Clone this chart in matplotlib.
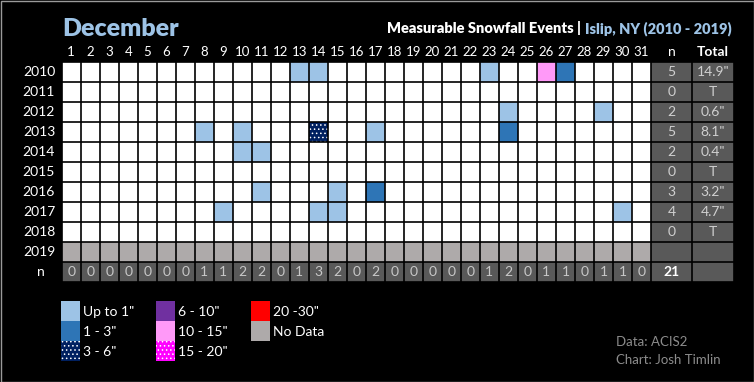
import matplotlib
matplotlib.use("Agg")
import matplotlib.pyplot as plt
from matplotlib.patches import Rectangle

plt.rcParams['font.family'] = ['Lato', 'DejaVu Sans']
plt.rcParams['hatch.linewidth'] = 0.6

# ---------------- data ----------------
month = "December"
years = [2010, 2011, 2012, 2013, 2014, 2015, 2016, 2017, 2018, 2019]
days = list(range(1, 32))
no_data_years = [2019]

# one entry per measurable snowfall day
event_year = [2010, 2010, 2010, 2010, 2010, 2012, 2012, 2013, 2013, 2013, 2013,
              2013, 2014, 2014, 2016, 2016, 2016, 2017, 2017, 2017, 2017]
event_day = [13, 14, 23, 26, 27, 24, 29, 8, 10, 14, 17,
             24, 10, 11, 11, 15, 17, 9, 14, 15, 30]
event_cat = [0, 0, 0, 4, 1, 0, 0, 0, 0, 2, 0,
             1, 0, 0, 0, 0, 1, 0, 0, 0, 0]

season_total = ['14.9"', 'T', '0.6"', '8.1"', '0.4"', 'T', '3.2"', '4.7"', 'T', '']

cat_labels = ['Up to 1"', '1 - 3"', '3 - 6"', '6 - 10"', '10 - 15"', '15 - 20"', '20 -30"', 'No Data']
cat_colors = ['#9DC3E6', '#2E75B6', '#002060', '#7030A0', '#FF99F8', '#FF00FF', '#FF0000', '#AEAAAA']
cat_hatch = [None, None, '....', None, None, '....', None, None]

# ---------------- layout ----------------
W, H = 754, 382
side_gray = '#595959'
nd_gray = cat_colors[-1]
cell_w = 19.0
n_w = 41.0 / cell_w
tot_w = 42.0 / cell_w

fig = plt.figure(figsize=(W / 100, H / 100), dpi=100, facecolor='black')

# background / annotation layer in pixel units
bg = fig.add_axes([0, 0, 1, 1])
bg.set_xlim(0, W)
bg.set_ylim(H, 0)
bg.axis('off')
bg.add_patch(Rectangle((0.5, 0.5), W - 1, H - 1, fill=False, edgecolor='#9a9a9a', lw=1))

# grid axes: x in day units, y in row units
x_left, x_right = 61.7, 734.0
y_top, y_bot = 61.7, 281.7
ax = fig.add_axes([x_left / W, (H - y_bot) / H, (x_right - x_left) / W, (y_bot - y_top) / H])
ax.set_xlim(0.5, 31.5 + n_w + tot_w)
ax.set_ylim(len(years) + 0.5, -0.5)
ax.axis('off')

n_x0 = 31.5
t_x0 = 31.5 + n_w
n_row = len(years)

# base cells
for r, yr in enumerate(years):
    fc = nd_gray if yr in no_data_years else 'white'
    ax.add_patch(Rectangle((0.5, r - 0.5), 31, 1, facecolor=fc, lw=0))
ax.add_patch(Rectangle((0.5, n_row - 0.5), 31, 1, facecolor=side_gray, lw=0))
ax.add_patch(Rectangle((n_x0, -0.5), n_w + tot_w, len(years) + 1, facecolor=side_gray, lw=0))

# snowfall events
for yr, d, c in zip(event_year, event_day, event_cat):
    r = years.index(yr)
    ax.add_patch(Rectangle((d - 0.5, r - 0.5), 1, 1, facecolor=cat_colors[c],
                           edgecolor='white', lw=0, hatch=cat_hatch[c]))

# grid lines
xb = [d + 0.5 for d in range(0, 32)] + [t_x0, t_x0 + tot_w]
yb = [r - 0.5 for r in range(0, len(years) + 2)]
ax.vlines(xb, -0.5, len(years) + 0.5, colors='black', lw=1.2)
ax.hlines(yb, 0.5, t_x0 + tot_w, colors='black', lw=1.2)

# day labels + header
for d in days:
    ax.text(d, -1.0, str(d), color='white', fontsize=9.5, ha='center', va='center')
ax.text(n_x0 + n_w / 2, -1.0, 'n', color='white', fontsize=10, ha='center', va='center')
ax.text(t_x0 + tot_w / 2, -1.0, 'Total', color='white', fontsize=10, ha='center', va='center',
        fontweight='bold')

# year labels
for r, yr in enumerate(years):
    ax.text(0.15, r, str(yr), color='white', fontsize=10, ha='right', va='center')
ax.text(-0.6, n_row, 'n', color='white', fontsize=10, ha='center', va='center')

# counts per year and totals
year_n = [sum(1 for e in event_year if e == yr) for yr in years]
for r, yr in enumerate(years):
    if yr in no_data_years:
        continue
    ax.text(n_x0 + n_w / 2, r, str(year_n[r]), color='#d0d0d0', fontsize=10, ha='center', va='center')
    ax.text(t_x0 + tot_w / 2, r, season_total[r], color='#d0d0d0', fontsize=10, ha='center', va='center')

# counts per day
day_n = [sum(1 for e in event_day if e == d) for d in days]
for d, n in zip(days, day_n):
    ax.text(d, n_row, str(n), color='#c8c8c8', fontsize=10, ha='center', va='center')
ax.text(n_x0 + n_w / 2, n_row, str(sum(day_n)), color='white', fontsize=10, ha='center', va='center',
        fontweight='bold')

# ---------------- titles ----------------
bg.text(62, 36.5, month, color='#9DC3E6', fontsize=18, fontweight='heavy', ha='left', va='baseline')
r_txt = bg.text(732, 33, 'Islip, NY (2010 - 2019)', color='#9DC3E6', fontsize=10.5,
                fontweight='heavy', ha='right', va='baseline')
fig.canvas.draw()
bb = r_txt.get_window_extent().transformed(bg.transData.inverted())
bg.text(bb.x0 - 4, 33, 'Measurable Snowfall Events |', color='white', fontsize=10.5,
        fontweight='heavy', ha='right', va='baseline')

# ---------------- legend ----------------
leg_x = [61, 156, 251]
leg_y0 = 301
for i, (lab, col, hat) in enumerate(zip(cat_labels, cat_colors, cat_hatch)):
    cx = leg_x[i // 3]
    cy = leg_y0 + 20 * (i % 3)
    bg.add_patch(Rectangle((cx, cy), 19, 20, facecolor=col, edgecolor='white', lw=0, hatch=hat))
    bg.text(cx + 22, cy + 10.5, lab, color='white', fontsize=10, ha='left', va='center')

# credits
bg.text(616, 342, 'Data: ACIS2', color='#8c8c8c', fontsize=9.5, ha='left', va='center')
bg.text(616, 360, 'Chart: Josh Timlin', color='#8c8c8c', fontsize=9.5, ha='left', va='center')

fig.savefig('out.png', dpi=100, facecolor='black')
